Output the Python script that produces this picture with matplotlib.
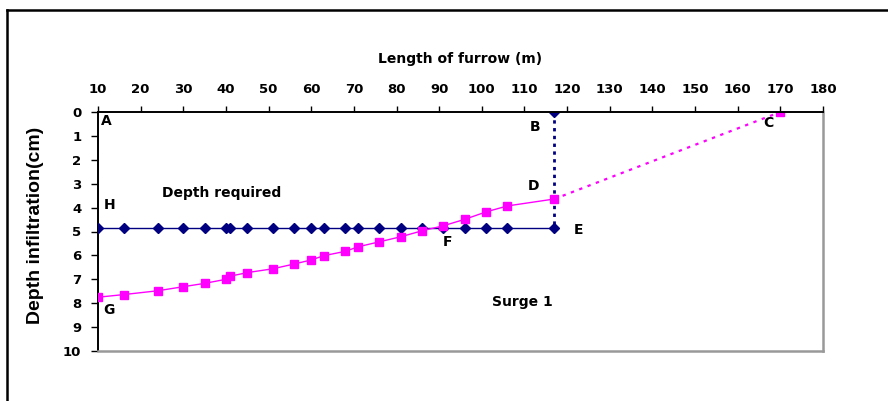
"""Surge 1: depth of infiltration along the furrow vs depth required."""
import matplotlib
matplotlib.use("Agg")
import matplotlib.pyplot as plt
from matplotlib.lines import Line2D

plt.rcParams['font.family'] = ['DejaVu Sans']
plt.rcParams['font.weight'] = 'bold'

# furrow stations (m)
length_m = [10, 16, 24, 30, 35, 40, 41, 45, 51, 56, 60, 63, 68, 71, 76, 81, 86, 91, 96, 101, 106, 117]
# depth required (cm), flat
depth_required = [4.85] * len(length_m)
# infiltrated depth after surge 1 (cm)
depth_surge1 = [7.75, 7.64, 7.48, 7.31, 7.17, 7.0, 6.87, 6.72, 6.56, 6.36, 6.19, 6.01,
                5.83, 5.64, 5.43, 5.22, 4.97, 4.76, 4.49, 4.18, 3.93, 3.64]
# extrapolation D -> C and the vertical B -> E
extrap_x = [117, 170]
extrap_y = [3.64, 0.0]
vert_x = [117, 117]
vert_y = [0.0, 4.85]

point_labels = [("A", 10.7, 0.38), ("B", 111.3, 0.63), ("C", 165.9, 0.44),
                ("D", 110.8, 3.08), ("E", 121.6, 4.92), ("F", 90.9, 5.42),
                ("G", 11.2, 8.28), ("H", 11.4, 3.89)]

NAVY = '#000080'
PINK = '#FF00FF'

fig = plt.figure(figsize=(8.88, 4.01), dpi=100)
fig.patch.set_facecolor('white')

# outer frame (only top and left edges visible in the crop)
fig.add_artist(Line2D([7/888, 1.0], [1 - 10/401, 1 - 10/401], transform=fig.transFigure,
                      color='black', linewidth=1.8))
fig.add_artist(Line2D([7/888, 7/888], [0.0, 1 - 10/401], transform=fig.transFigure,
                      color='black', linewidth=1.8))

ax = fig.add_axes([98/888, 1 - 351/401, 725/888, 239/401])

ax.plot(vert_x, vert_y, linestyle=(0, (1.2, 1.6)), color=NAVY, linewidth=2,
        marker='D', markersize=5, markevery=[0])
ax.plot(extrap_x, extrap_y, linestyle=(0, (1.5, 2.5)), color=PINK, linewidth=1.6,
        marker='s', markersize=6, markevery=[1])
ax.plot(length_m, depth_required, color=NAVY, linewidth=1, marker='D', markersize=5,
        markerfacecolor=NAVY, markeredgecolor=NAVY, zorder=3)
ax.plot(length_m, depth_surge1, color=PINK, linewidth=1, marker='s', markersize=5.5,
        markerfacecolor=PINK, markeredgecolor=PINK, zorder=4)

ax.set_xlim(10, 180)
ax.set_ylim(10, 0)
ax.set_xticks(range(10, 181, 10))
ax.set_yticks(range(0, 11))
ax.xaxis.tick_top()
ax.xaxis.set_label_position('top')
ax.tick_params(axis='x', direction='out', length=4, width=1, pad=7.5, labelsize=9.5)
ax.tick_params(axis='y', direction='out', length=5, width=1, pad=7, labelsize=9.5)
for lab in ax.get_xticklabels() + ax.get_yticklabels():
    lab.set_fontweight('bold')

ax.spines['top'].set_color('black')
ax.spines['left'].set_color('black')
ax.spines['top'].set_linewidth(1.4)
ax.spines['left'].set_linewidth(1.4)
ax.spines['right'].set_color('#999999')
ax.spines['bottom'].set_color('#999999')
ax.spines['right'].set_linewidth(1.8)
ax.spines['bottom'].set_linewidth(1.8)

ax.set_xlabel("Length of furrow (m)", fontsize=10, fontweight='bold', labelpad=14.5)
fig.text(35/888, 1 - 225/401, "Depth infiltration(cm)", rotation=90, ha='center', va='center',
         fontsize=14, fontweight='bold', fontstretch='condensed',
         family=['Liberation Sans Narrow', 'Liberation Sans'])

for name, x, y in point_labels:
    ax.text(x, y, name, fontsize=10, fontweight='bold', ha='left', va='center')
ax.text(25.0, 3.37, "Depth required", fontsize=10, fontweight='bold', ha='left', va='center')
ax.text(102.4, 7.95, "Surge 1", fontsize=10, fontweight='bold', ha='left', va='center')

fig.savefig("out.png", dpi=100, facecolor='white')
